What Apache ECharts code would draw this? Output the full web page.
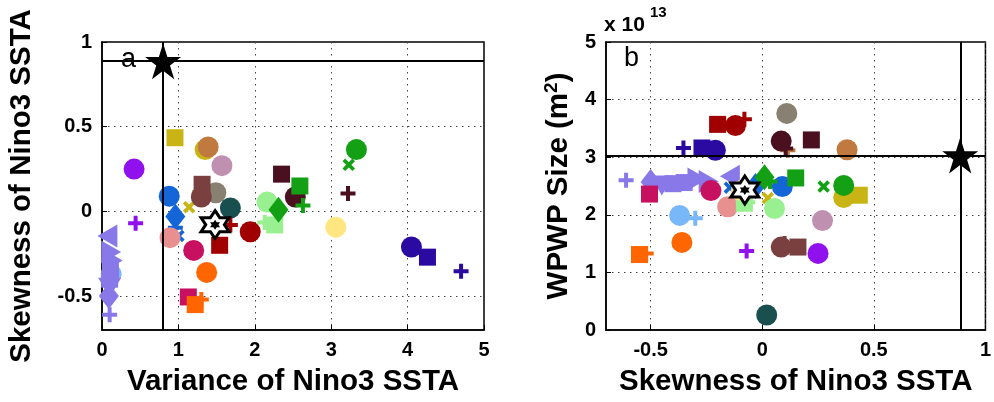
<!DOCTYPE html>
<html lang="en">
<head>
<meta charset="UTF-8">
<title>Nino3 SSTA variance / skewness / WPWP size</title>
<script src="https://cdn.jsdelivr.net/npm/echarts@6/dist/echarts.min.js"></script>
<style>html,body{margin:0;padding:0;background:#fff;}</style>
</head>
<body>
<div id="main" style="width:994px;height:402px;"></div>
<script>
// one entry per model: colour, marker, and the three diagnostics
var modelColor = [
  '#9010EE', '#9010EE',
  '#78B8F8', '#78B8F8',
  '#8878E8', '#8878E8', '#8878E8', '#8878E8', '#8878E8', '#8878E8', '#8878E8', '#8878E8',
  '#1466D8', '#1466D8', '#1466D8', '#1466D8',
  '#E89090',
  '#2A0AA0', '#2A0AA0', '#2A0AA0',
  '#C81060', '#C81060',
  '#FF6600', '#FF6600', '#FF6600',
  '#C8B414', '#C8B414', '#C8B414',
  '#C07A40', '#C07A40',
  '#C090B0',
  '#888070',
  '#7A4040', '#7A4040', '#7A4040',
  '#1A4F50',
  '#4A1020', '#4A1020', '#4A1020',
  '#A00000', '#A00000', '#A00000',
  '#98F090', '#98F090', '#98F090',
  '#14A014', '#14A014', '#14A014', '#14A014', '#14A014',
  '#FFE680'
];
var modelShape = [
  'o', '+',
  'o', '+',
  '<', '>', '>', 's', 'd', 'v', 's', '+',
  'o', 'd', '+', 'x',
  'o',
  'o', 's', '+',
  'o', 's',
  'o', 's', '+',
  's', 'o', 'x',
  'o', '+',
  'o',
  'o',
  's', 'o', '+',
  'o',
  's', 'o', '+',
  'o', 's', '+',
  'o', 's', '+',
  'o', 'x', 's', '+', 'd',
  'o'
];
var variance = [
  0.42, 0.44,
  0.12, 0.10,
  0.07, 0.14, 0.12, 0.11, 0.09, 0.10, 0.10, 0.10,
  0.88, 0.96, 0.96, 1.00,
  0.89,
  4.05, 4.26, 4.70,
  1.20, 1.13,
  1.37, 1.22, 1.30,
  0.955, 1.35, 1.14,
  1.39, 1.28,
  1.57,
  1.49,
  1.31, 1.30, 1.28,
  1.68,
  2.35, 2.53, 3.22,
  1.94, 1.54, 1.68,
  2.16, 2.26, 2.13,
  3.33, 3.23, 2.59, 2.63, 2.31,
  3.06
];
var skewness = [
  0.25, -0.07,
  -0.37, -0.30,
  -0.145, -0.29, -0.24, -0.35, -0.50, -0.45, -0.40, -0.61,
  0.09, -0.03, -0.097, -0.145,
  -0.155,
  -0.21, -0.27, -0.353,
  -0.23, -0.505,
  -0.36, -0.55, -0.52,
  0.435, 0.365, 0.025,
  0.38, 0.115,
  0.27,
  0.11,
  0.16, 0.085, 0.10,
  0.02,
  0.22, 0.085, 0.105,
  -0.12, -0.20, -0.08,
  0.055, -0.08, -0.065,
  0.365, 0.275, 0.15, 0.035, 0.01,
  -0.093
];
// WPWP size in units of 1e13 m^2
var wpwpSize = [
  1.33, 1.37,
  1.99, 1.94,
  2.67, 2.62, 2.58, 2.56, 2.57, 2.51, 2.54, 2.60,
  2.49, 2.50, 2.45, 2.47,
  2.14,
  3.12, 3.16, 3.16,
  2.42, 2.36,
  1.52, 1.31, 1.33,
  2.34, 2.30, 2.29,
  3.13, 3.12,
  1.90,
  3.76,
  1.44, 1.44, 1.50,
  0.26,
  3.30, 3.28, 3.15,
  3.55, 3.57, 3.66,
  2.11, 2.20, 2.22,
  2.51, 2.49, 2.64, 2.58, 2.65,
  2.42
];
// [variance, skewness, size]
var ensembleMean = [1.48, -0.078, 2.43];
var observed = [0.80, 0.887, 3.03];

var varianceTicks = [0, 1, 2, 3, 4, 5];
var skewTicks = [-0.5, 0, 0.5, 1];
var sizeTicks = [0, 1, 2, 3, 4, 5];

var FONT = '"Liberation Sans", Arial, sans-serif';

function starPath(n, rIn) {
  var p = [];
  for (var k = 0; k < 2 * n; k++) {
    var a = -Math.PI / 2 + k * Math.PI / n;
    var r = k % 2 ? rIn : 1;
    p.push((k ? 'L' : 'M') + (r * Math.cos(a)).toFixed(3) + ',' + (r * Math.sin(a)).toFixed(3));
  }
  return 'path://' + p.join('') + 'Z';
}
var PLUS = 'path://M-0.8,-3H0.8V-0.8H3V0.8H0.8V3H-0.8V0.8H-3V-0.8H-0.8Z';
var STAR5 = starPath(5, 0.382);
var STAR6 = starPath(6, 0.577);

var SYM = {
  'o': {symbol: 'circle', size: 21},
  's': {symbol: 'rect', size: 17},
  '+': {symbol: PLUS, size: 15},
  'x': {symbol: PLUS, size: 14, rotate: 45},
  'd': {symbol: 'diamond', size: [20, 26]},
  '<': {symbol: 'path://M0,5L9,0L9,10Z', size: [20, 23]},
  '>': {symbol: 'path://M0,0L9,5L0,10Z', size: [20, 23]},
  'v': {symbol: 'path://M0,0L10,0L5,9Z', size: [23, 20]}
};

function modelPoints(xs, ys) {
  var out = [];
  for (var i = 0; i < xs.length; i++) {
    var s = SYM[modelShape[i]];
    out.push({
      value: [xs[i], ys[i]],
      symbol: s.symbol,
      symbolSize: s.size,
      symbolRotate: s.rotate || 0,
      itemStyle: {color: modelColor[i], opacity: 1}
    });
  }
  return out;
}

var tickLabel = {color: '#000', fontFamily: FONT, fontWeight: 'bold', fontSize: 20, margin: 10};

function axisBase(extra) {
  var a = {
    type: 'value',
    axisLine: {show: true, onZero: false, lineStyle: {color: '#000', width: 1.5}},
    axisTick: {show: true, inside: true, length: 5, lineStyle: {color: '#000'}},
    splitLine: {show: true, lineStyle: {color: '#444', width: 1, type: [1.5, 4.5]}},
    axisLabel: tickLabel,
    nameLocation: 'middle',
    nameTextStyle: {color: '#000', fontFamily: FONT, fontWeight: 'bold', fontSize: 29.5}
  };
  for (var k in extra) a[k] = extra[k];
  return a;
}

function customTicks(vals) {
  return {
    axisTick: {show: true, inside: true, length: 5, lineStyle: {color: '#000'}, customValues: vals},
    axisLabel: Object.assign({customValues: vals}, tickLabel)
  };
}

function refSeries(xi, yi, pt) {
  return {
    type: 'scatter', xAxisIndex: xi, yAxisIndex: yi, silent: true, z: 5,
    data: [pt], symbol: STAR5, symbolSize: 36,
    itemStyle: {color: '#000', opacity: 1},
    markLine: {
      silent: true, symbol: 'none', label: {show: false},
      lineStyle: {color: '#000', width: 2, type: 'solid'},
      data: [{yAxis: pt[1]}, {xAxis: pt[0]}]
    }
  };
}

function meanSeries(xi, yi, pt) {
  return [{
    type: 'scatter', xAxisIndex: xi, yAxisIndex: yi, silent: true, z: 4,
    data: [pt], symbol: STAR6, symbolSize: 28,
    itemStyle: {color: '#fff', borderColor: '#000', borderWidth: 3, opacity: 1}
  }, {
    type: 'scatter', xAxisIndex: xi, yAxisIndex: yi, silent: true, z: 4,
    data: [pt], symbol: STAR6, symbolSize: 10,
    itemStyle: {color: '#000', opacity: 1}
  }];
}

var skewA = customTicks(skewTicks);
var skewB = customTicks(skewTicks);

var chart = echarts.init(document.getElementById('main'));
var option = {
  animation: false,
  grid: [
    {left: 102, top: 42, width: 382, height: 291, show: true, borderColor: '#000', borderWidth: 1.5},
    {left: 606, top: 42, width: 382, height: 291, show: true, borderColor: '#000', borderWidth: 1.5}
  ],
  xAxis: [
    axisBase({gridIndex: 0, min: varianceTicks[0], max: varianceTicks[varianceTicks.length - 1], interval: 1,
      name: 'Variance of Nino3 SSTA', nameGap: 37}),
    axisBase({gridIndex: 1, min: -0.7, max: 1,
      axisTick: skewB.axisTick, axisLabel: skewB.axisLabel,
      name: 'Skewness of Nino3 SSTA', nameGap: 37})
  ],
  yAxis: [
    axisBase({gridIndex: 0, min: -0.7, max: 1,
      axisTick: skewA.axisTick, axisLabel: skewA.axisLabel,
      name: 'Skewness of Nino3 SSTA', nameGap: 65}),
    axisBase({gridIndex: 1, min: sizeTicks[0], max: sizeTicks[sizeTicks.length - 1], interval: 1,
      name: '{t|WPWP Size (m}{s|2}{t|)}', nameGap: 30,
      nameTextStyle: {color: '#000', rich: {
        t: {fontFamily: FONT, fontWeight: 'bold', fontSize: 29.5, color: '#000'},
        s: {fontFamily: FONT, fontWeight: 'bold', fontSize: 19, color: '#000', padding: [0, 0, 15, 0]}
      }}})
  ],
  graphic: [
    {type: 'text', left: 121, top: 46, style: {text: 'a', font: '27px ' + FONT, fill: '#000'}},
    {type: 'text', left: 624, top: 45, style: {text: 'b', font: '27px ' + FONT, fill: '#000'}},
    {type: 'text', left: 604, top: 15, style: {text: 'x 10', font: 'bold 21px ' + FONT, fill: '#000'}},
    {type: 'text', left: 650, top: 5, style: {text: '13', font: 'bold 15px ' + FONT, fill: '#000'}}
  ],
  series: [
    {type: 'scatter', xAxisIndex: 0, yAxisIndex: 0, silent: true, data: modelPoints(variance, skewness)},
    {type: 'scatter', xAxisIndex: 1, yAxisIndex: 1, silent: true, data: modelPoints(skewness, wpwpSize)}
  ]
    .concat(meanSeries(0, 0, [ensembleMean[0], ensembleMean[1]]))
    .concat(meanSeries(1, 1, [ensembleMean[1], ensembleMean[2]]))
    .concat([
      refSeries(0, 0, [observed[0], observed[1]]),
      refSeries(1, 1, [observed[1], observed[2]])
    ])
};
chart.setOption(option);
</script>
</body>
</html>
